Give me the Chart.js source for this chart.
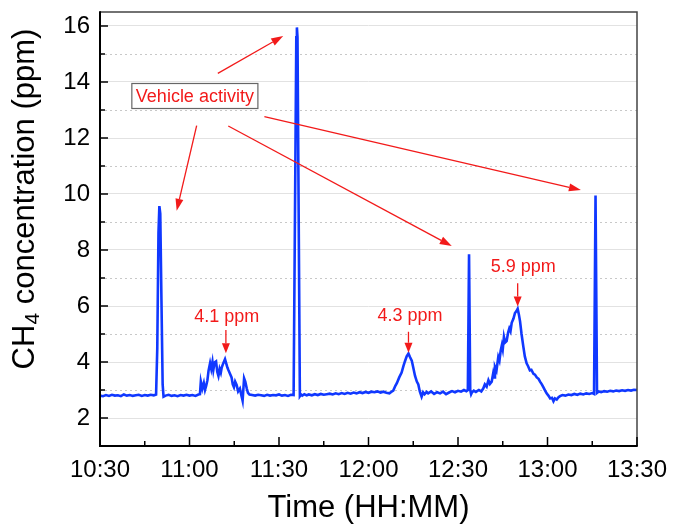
<!DOCTYPE html>
<html>
<head>
<meta charset="utf-8">
<title>CH4 concentration</title>
<script src="https://cdn.jsdelivr.net/npm/chart.js@4.4.1/dist/chart.umd.min.js"></script>
<style>
  html, body { margin: 0; padding: 0; background: #fff; }
  canvas { display: block; }
</style>
</head>
<body>
<canvas id="chartCH4" width="673" height="527"></canvas>
<script>
// sample times, minutes after 10:30
const timeMin = [
  0, 1, 2, 3, 4, 5, 6, 7, 8, 9,
  10, 11, 12, 13, 14, 15, 16, 17, 18, 18.8,
  19.2, 19.6, 19.9, 20.2, 20.6, 21.0, 21.3,
  22, 23, 24, 25, 26, 27, 28, 29, 30, 31, 32, 33,
  33.5, 33.8, 34.3, 34.8, 35.2, 35.6, 36.0, 36.4, 36.9, 37.3,
  37.7, 38.0, 38.4, 38.9, 39.3, 39.7, 40.1, 40.5, 40.8, 41.3,
  41.9, 42.3, 42.7, 43.0, 43.5, 44.1, 44.5, 44.9, 45.3, 45.8,
  46.3, 46.9, 47.3, 47.8, 48.1, 48.3, 48.7, 49.2, 49.6, 50.1,
  51, 52, 53, 54, 55, 56, 57, 58, 59, 60, 61, 62, 63, 64, 64.9,
  65.8, 66.0, 66.2, 67.0, 67.4, 67.8, 68.5, 69.3,
  70, 71, 72, 73, 74, 75, 76, 77, 78, 79,
  80, 81, 82, 83, 84, 85, 86, 87, 88, 89,
  90, 91, 92, 93, 94, 95, 96, 97,
  97.6, 98.3, 99.0, 99.5, 100.3, 101.1, 101.7, 102.2, 102.8, 103.4,
  103.9, 104.5, 105.0, 105.6, 106.2, 106.7, 107.2, 107.8, 108.3, 108.8,
  109.5, 110, 111, 112, 113, 114, 115, 116, 117, 118,
  119, 120, 121, 122, 122.8,
  123.3, 123.7, 124.1, 124.4, 124.7, 125.3, 126, 127, 127.8,
  128.5, 129.0, 129.6, 130.2, 130.7, 131.3, 131.8, 132.1, 132.4, 132.9,
  133.5, 133.9, 134.3, 134.7, 135.0, 135.4, 135.8, 136.3, 136.8, 137.2,
  137.6, 138.0, 138.6, 139.1, 139.6, 140.0, 140.4, 140.8, 141.3, 141.9,
  142.4, 143.0, 143.5, 144.1, 144.6, 145.3, 145.8, 146.4, 147.0, 147.5,
  148.1, 148.6, 149.2, 149.7, 150.3, 150.9, 151.5, 152.0, 152.5, 153.1,
  153.7, 154.2,
  155, 156, 157, 158, 159, 160, 161, 162, 163, 164,
  165, 165.6,
  166.1, 166.6,
  167.2, 168, 169, 170, 171, 172, 173, 174, 175, 176,
  177, 178, 179, 180
];

// methane reading at each sample time, ppm
const ch4Ppm = [
  2.80, 2.78, 2.82, 2.79, 2.83, 2.80, 2.81, 2.78, 2.84, 2.80,
  2.82, 2.79, 2.81, 2.83, 2.79, 2.82, 2.80, 2.83, 2.81, 2.84,
  4.5, 8.6, 9.57, 9.3, 6.2, 3.2, 2.76,
  2.80, 2.83, 2.79, 2.81, 2.78, 2.82, 2.80, 2.83, 2.80, 2.82, 2.79, 2.84,
  2.85, 3.30, 3.05, 3.25, 3.00, 3.15, 3.35, 3.70, 3.96, 3.75,
  4.00, 3.72, 3.98, 4.02, 3.65, 3.50, 3.75, 3.62, 3.80, 3.95,
  4.10, 3.95, 3.80, 3.72, 3.60, 3.45, 3.20, 3.10, 3.30, 3.18,
  2.95, 3.05, 2.85, 2.62, 3.10, 3.42, 3.30, 3.05, 2.90, 2.84,
  2.82, 2.80, 2.83, 2.81, 2.79, 2.83, 2.80, 2.82, 2.81, 2.84, 2.80, 2.82, 2.79, 2.83, 2.82,
  15.6, 15.95, 15.6, 2.78, 2.84, 2.80, 2.85, 2.81,
  2.84, 2.81, 2.85, 2.82, 2.86, 2.83, 2.85, 2.87, 2.84, 2.88,
  2.85, 2.89, 2.86, 2.90, 2.87, 2.91, 2.88, 2.92, 2.89, 2.93,
  2.90, 2.94, 2.92, 2.95, 2.91, 2.94, 2.90, 2.88,
  2.93, 2.98, 3.15, 3.24, 3.45, 3.62, 3.85, 4.02, 4.20, 4.30,
  4.18, 4.05, 3.80, 3.50, 3.30, 3.20, 2.95, 2.76, 2.92, 2.85,
  2.93, 2.88, 2.95, 2.86, 2.92, 2.88, 2.94, 2.85, 2.91, 2.96,
  2.92, 2.97, 2.94, 3.00, 2.96,
  3.00, 7.85, 3.00, 2.85, 2.92, 2.98, 2.93, 3.00, 2.95,
  3.06, 3.20, 3.12, 3.35, 3.22, 3.30, 3.60, 3.45, 3.83, 3.70,
  4.18, 4.05, 4.40, 4.60, 4.45, 4.90, 4.70, 4.75, 5.05, 5.20,
  5.10, 5.40, 5.55, 5.75, 5.82, 5.90, 5.70, 5.45, 5.00, 4.55,
  4.20, 3.95, 3.85, 3.70, 3.72, 3.58, 3.55, 3.45, 3.40, 3.30,
  3.20, 3.10, 2.98, 2.88, 2.80, 2.70, 2.72, 2.60, 2.70, 2.66,
  2.74, 2.78,
  2.82, 2.80, 2.84, 2.82, 2.86, 2.83, 2.87, 2.84, 2.88, 2.86,
  2.89, 2.86,
  9.95, 2.90,
  2.95, 2.92, 2.96, 2.94, 2.97, 2.95, 2.98, 2.96, 2.99, 2.97,
  3.00, 2.98, 3.01, 3.00
];

const xTickValues = [0, 30, 60, 90, 120, 150, 180];
const xTickLabels = ['10:30', '11:00', '11:30', '12:00', '12:30', '13:00', '13:30'];
const xMinorValues = [15, 45, 75, 105, 135, 165];
const yTickValues = [2, 4, 6, 8, 10, 12, 14, 16];
const yMinorValues = [3, 5, 7, 9, 11, 13, 15];

// callouts, in (minutes, ppm)
const vehicleLabel = { text: 'Vehicle activity', at: [31.8, 13.5] };
const vehicleArrows = [
  { from: [39.5, 14.31], to: [61.4, 15.64] },
  { from: [32.4, 12.44], to: [25.7, 9.40] },
  { from: [43.0, 12.43], to: [117.9, 8.14] },
  { from: [55.1, 12.76], to: [161.2, 10.14] }
];
const peakLabels = [
  { text: '4.1 ppm', at: [42.5, 5.62], arrowX: 42.2, arrowTop: 5.14, arrowTip: 4.31 },
  { text: '4.3 ppm', at: [103.9, 5.64], arrowX: 103.4, arrowTop: 5.08, arrowTip: 4.33 },
  { text: '5.9 ppm', at: [141.9, 7.40], arrowX: 140.0, arrowTop: 6.81, arrowTip: 5.98 }
];

const FONT = "'Liberation Sans', Arial, sans-serif";
const RED = '#f21a1a';

function drawArrow(ctx, x1, y1, x2, y2, headLen, headHalf) {
  const ang = Math.atan2(y2 - y1, x2 - x1);
  const bx = x2 - headLen * Math.cos(ang);
  const by = y2 - headLen * Math.sin(ang);
  ctx.beginPath();
  ctx.moveTo(x1, y1);
  ctx.lineTo(bx, by);
  ctx.stroke();
  ctx.beginPath();
  ctx.moveTo(x2, y2);
  ctx.lineTo(bx + headHalf * Math.sin(ang), by - headHalf * Math.cos(ang));
  ctx.lineTo(bx - headHalf * Math.sin(ang), by + headHalf * Math.cos(ang));
  ctx.closePath();
  ctx.fill();
}

const chartDecor = {
  id: 'chartDecor',
  beforeDatasetsDraw(chart) {
    // dotted lines at the odd ppm values
    const { ctx, chartArea: a, scales: { y } } = chart;
    ctx.save();
    ctx.strokeStyle = '#c8c8c8';
    ctx.lineWidth = 1;
    ctx.setLineDash([2, 3]);
    yMinorValues.forEach(v => {
      const py = Math.round(y.getPixelForValue(v)) + 0.5;
      ctx.beginPath();
      ctx.moveTo(a.left, py);
      ctx.lineTo(a.right, py);
      ctx.stroke();
    });
    ctx.restore();
  },
  afterDraw(chart) {
    const { ctx, chartArea: a, scales: { x, y } } = chart;
    ctx.save();

    // frame: heavy left/bottom axes, lighter top/right
    ctx.strokeStyle = '#444';
    ctx.lineWidth = 1.5;
    ctx.beginPath();
    ctx.moveTo(a.left, a.top);
    ctx.lineTo(a.right, a.top);
    ctx.lineTo(a.right, a.bottom);
    ctx.stroke();
    ctx.strokeStyle = '#000';
    ctx.lineWidth = 2;
    ctx.beginPath();
    ctx.moveTo(a.left, a.top - 0.75);
    ctx.lineTo(a.left, a.bottom);
    ctx.lineTo(a.right + 0.75, a.bottom);
    ctx.stroke();

    // inward tick marks
    ctx.lineWidth = 1.5;
    xTickValues.concat(xMinorValues).forEach(v => {
      const px = x.getPixelForValue(v);
      const len = xTickValues.includes(v) ? 9 : 5;
      ctx.beginPath();
      ctx.moveTo(px, a.bottom);
      ctx.lineTo(px, a.bottom - len);
      ctx.stroke();
    });
    yTickValues.concat(yMinorValues).forEach(v => {
      const py = y.getPixelForValue(v);
      const len = yTickValues.includes(v) ? 8 : 5;
      ctx.beginPath();
      ctx.moveTo(a.left, py);
      ctx.lineTo(a.left + len, py);
      ctx.stroke();
    });

    // y title with subscript
    ctx.fillStyle = '#000';
    ctx.textBaseline = 'middle';
    ctx.textAlign = 'left';
    ctx.translate(25, 199);
    ctx.rotate(-Math.PI / 2);
    const big = '31px ' + FONT;
    const small = '21px ' + FONT;
    ctx.font = big;
    const w1 = ctx.measureText('CH').width;
    const w3 = ctx.measureText(' concentration (ppm)').width;
    ctx.font = small;
    const w2 = ctx.measureText('4').width;
    let sx = -(w1 + w2 + w3) / 2;
    ctx.font = big;
    ctx.fillText('CH', sx, 0);
    ctx.font = small;
    ctx.fillText('4', sx + w1, 8);
    ctx.font = big;
    ctx.fillText(' concentration (ppm)', sx + w1 + w2, 0);
    ctx.setTransform(1, 0, 0, 1, 0, 0);

    // callouts
    ctx.strokeStyle = RED;
    ctx.fillStyle = RED;
    ctx.lineWidth = 1.3;
    vehicleArrows.forEach(ar => {
      drawArrow(ctx,
        x.getPixelForValue(ar.from[0]), y.getPixelForValue(ar.from[1]),
        x.getPixelForValue(ar.to[0]), y.getPixelForValue(ar.to[1]), 12, 4);
    });
    peakLabels.forEach(p => {
      const px = x.getPixelForValue(p.arrowX);
      drawArrow(ctx, px, y.getPixelForValue(p.arrowTop), px, y.getPixelForValue(p.arrowTip), 10, 4);
      ctx.font = '18px ' + FONT;
      ctx.textAlign = 'center';
      ctx.textBaseline = 'middle';
      ctx.fillText(p.text, x.getPixelForValue(p.at[0]), y.getPixelForValue(p.at[1]));
    });

    ctx.font = '18px ' + FONT;
    ctx.textAlign = 'center';
    ctx.textBaseline = 'middle';
    const lx = x.getPixelForValue(vehicleLabel.at[0]);
    const ly = y.getPixelForValue(vehicleLabel.at[1]);
    const tw = ctx.measureText(vehicleLabel.text).width;
    ctx.fillStyle = '#fff';
    ctx.fillRect(lx - tw / 2 - 4, ly - 12.5, tw + 8, 25);
    ctx.strokeStyle = '#666';
    ctx.lineWidth = 1.2;
    ctx.strokeRect(lx - tw / 2 - 4, ly - 12.5, tw + 8, 25);
    ctx.fillStyle = RED;
    ctx.fillText(vehicleLabel.text, lx, ly + 1);

    ctx.restore();
  }
};

new Chart(document.getElementById('chartCH4'), {
  type: 'line',
  data: {
    datasets: [{
      label: 'CH4',
      data: timeMin.map((t, i) => ({ x: t, y: ch4Ppm[i] })),
      borderColor: 'rgb(16, 56, 255)',
      borderWidth: 2.6,
      pointRadius: 0,
      tension: 0,
      fill: false
    }]
  },
  options: {
    responsive: false,
    animation: false,
    devicePixelRatio: 1,
    layout: { padding: { top: 12, right: 36, left: 0, bottom: 0 } },
    plugins: { legend: { display: false }, tooltip: { enabled: false } },
    scales: {
      x: {
        type: 'linear',
        min: 0,
        max: 180,
        afterBuildTicks: s => { s.ticks = xTickValues.map(v => ({ value: v })); },
        afterFit: s => { s.height = 81; s.paddingLeft = 0; s.paddingRight = 0; },
        grid: { display: false, drawTicks: false },
        border: { display: false },
        ticks: {
          padding: 10,
          color: '#000',
          font: { family: FONT, size: 24 },
          maxRotation: 0,
          callback: v => xTickLabels[xTickValues.indexOf(v)]
        },
        title: {
          display: true,
          text: 'Time (HH:MM)',
          color: '#000',
          font: { family: FONT, size: 31 },
          padding: { top: 0, bottom: 0 }
        }
      },
      y: {
        min: 1,
        max: 16.5,
        afterBuildTicks: s => { s.ticks = yTickValues.map(v => ({ value: v })); },
        afterFit: s => { s.width = 100; s.paddingTop = 0; s.paddingBottom = 0; },
        grid: { color: '#e2e2e2', lineWidth: 1, drawTicks: false },
        border: { display: false },
        ticks: {
          padding: 10,
          color: '#000',
          font: { family: FONT, size: 24 }
        }
      }
    }
  },
  plugins: [chartDecor]
});
</script>
</body>
</html>
